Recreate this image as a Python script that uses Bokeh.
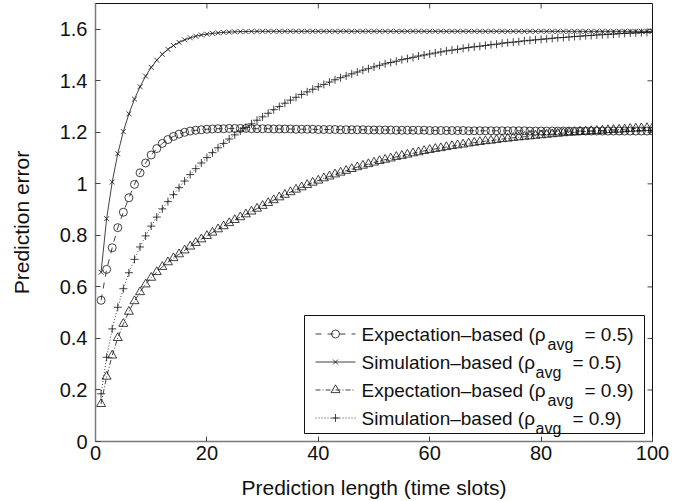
from math import pi

from bokeh.plotting import figure
from bokeh.models import FixedTicker, Range1d
from bokeh.core.properties import value
from bokeh.embed import file_html
from bokeh.resources import INLINE

# Prediction length in time slots
slots = list(range(1, 101))

# Expectation-based prediction error, rho_avg = 0.5
exp_rho05 = [
    0.548, 0.668, 0.752, 0.830, 0.890, 0.946, 0.998, 1.043, 1.081, 1.112,
    1.137, 1.157, 1.172, 1.184, 1.193, 1.200, 1.205, 1.208, 1.210, 1.212,
    1.213, 1.214, 1.214, 1.215, 1.215, 1.215, 1.215, 1.214, 1.214, 1.214,
    1.214, 1.213, 1.213, 1.213, 1.213, 1.212, 1.212, 1.212, 1.212, 1.211,
    1.211, 1.211, 1.211, 1.210, 1.210, 1.210, 1.210, 1.210, 1.209, 1.209,
    1.209, 1.209, 1.209, 1.208, 1.208, 1.208, 1.208, 1.208, 1.208, 1.207,
    1.207, 1.207, 1.207, 1.207, 1.207, 1.207, 1.206, 1.206, 1.206, 1.206,
    1.206, 1.206, 1.206, 1.206, 1.206, 1.206, 1.206, 1.205, 1.205, 1.205,
    1.205, 1.205, 1.205, 1.205, 1.205, 1.205, 1.205, 1.205, 1.205, 1.205,
    1.205, 1.205, 1.205, 1.205, 1.205, 1.205, 1.205, 1.205, 1.205, 1.205,
]

# Simulation-based prediction error, rho_avg = 0.5
sim_rho05 = [
    0.657, 0.865, 1.007, 1.117, 1.203, 1.272, 1.329, 1.377, 1.418, 1.452,
    1.480, 1.503, 1.522, 1.537, 1.549, 1.559, 1.567, 1.573, 1.578, 1.581,
    1.584, 1.586, 1.588, 1.589, 1.590, 1.591, 1.591, 1.592, 1.592, 1.592,
    1.592, 1.592, 1.592, 1.592, 1.592, 1.592, 1.592, 1.592, 1.592, 1.592,
    1.592, 1.592, 1.592, 1.592, 1.592, 1.592, 1.592, 1.592, 1.592, 1.592,
    1.592, 1.592, 1.592, 1.592, 1.592, 1.592, 1.592, 1.592, 1.592, 1.592,
    1.592, 1.592, 1.592, 1.592, 1.592, 1.592, 1.592, 1.592, 1.592, 1.592,
    1.592, 1.592, 1.592, 1.592, 1.592, 1.592, 1.592, 1.592, 1.592, 1.592,
    1.592, 1.592, 1.592, 1.592, 1.592, 1.592, 1.592, 1.592, 1.592, 1.592,
    1.592, 1.592, 1.592, 1.592, 1.592, 1.592, 1.592, 1.592, 1.592, 1.592,
]

# Expectation-based prediction error, rho_avg = 0.9
exp_rho09 = [
    0.146, 0.252, 0.334, 0.402, 0.457, 0.504, 0.545, 0.580, 0.610, 0.636,
    0.658, 0.678, 0.696, 0.712, 0.727, 0.742, 0.757, 0.771, 0.785, 0.798,
    0.811, 0.824, 0.836, 0.848, 0.860, 0.871, 0.882, 0.893, 0.904, 0.915,
    0.926, 0.937, 0.948, 0.958, 0.968, 0.978, 0.987, 0.996, 1.005, 1.013,
    1.022, 1.029, 1.037, 1.044, 1.051, 1.058, 1.065, 1.071, 1.077, 1.083,
    1.089, 1.094, 1.099, 1.105, 1.109, 1.114, 1.119, 1.123, 1.128, 1.132,
    1.136, 1.139, 1.143, 1.147, 1.150, 1.153, 1.157, 1.160, 1.163, 1.166,
    1.168, 1.171, 1.174, 1.176, 1.179, 1.181, 1.183, 1.185, 1.187, 1.189,
    1.191, 1.193, 1.195, 1.197, 1.199, 1.200, 1.202, 1.203, 1.205, 1.206,
    1.207, 1.209, 1.210, 1.211, 1.212, 1.214, 1.215, 1.216, 1.217, 1.218,
]

# Simulation-based prediction error, rho_avg = 0.9
sim_rho09 = [
    0.185, 0.327, 0.437, 0.521, 0.593, 0.655, 0.707, 0.755, 0.798, 0.836,
    0.871, 0.903, 0.931, 0.958, 0.985, 1.011, 1.036, 1.059, 1.081, 1.102,
    1.121, 1.140, 1.157, 1.174, 1.190, 1.205, 1.219, 1.233, 1.247, 1.260,
    1.274, 1.288, 1.300, 1.313, 1.325, 1.336, 1.347, 1.357, 1.367, 1.377,
    1.386, 1.395, 1.404, 1.412, 1.419, 1.427, 1.434, 1.441, 1.447, 1.454,
    1.460, 1.466, 1.471, 1.476, 1.482, 1.486, 1.491, 1.496, 1.500, 1.504,
    1.508, 1.512, 1.516, 1.519, 1.522, 1.526, 1.529, 1.532, 1.534, 1.537,
    1.540, 1.542, 1.546, 1.548, 1.550, 1.552, 1.555, 1.557, 1.559, 1.561,
    1.563, 1.565, 1.567, 1.568, 1.570, 1.572, 1.573, 1.575, 1.576, 1.578,
    1.579, 1.580, 1.581, 1.583, 1.584, 1.585, 1.586, 1.587, 1.588, 1.589,
]

series_methods = ["Expectation\u2013based", "Simulation\u2013based",
                  "Expectation\u2013based", "Simulation\u2013based"]
series_rho = ["0.5", "0.5", "0.9", "0.9"]

x_ticks = [0, 20, 40, 60, 80, 100]
x_tick_labels = ["0", "20", "40", "60", "80", "100"]
y_ticks = [0, 0.2, 0.4, 0.6, 0.8, 1, 1.2, 1.4, 1.6]
y_tick_labels = ["0", "0.2", "0.4", "0.6", "0.8", "1", "1.2", "1.4", "1.6"]

FONT = "Liberation Sans"
INK = "#111111"
TICK_INK = "#444444"
WIDTH, HEIGHT = 692, 501
BORDER_L, BORDER_R, BORDER_T, BORDER_B = 95, 40, 3, 60
FRAME_W = WIDTH - BORDER_L - BORDER_R
FRAME_H = HEIGHT - BORDER_T - BORDER_B
X_MAX, Y_MAX = 100, 1.7

p = figure(
    width=WIDTH, height=HEIGHT,
    x_range=Range1d(0, X_MAX), y_range=Range1d(0, Y_MAX),
    output_backend="svg", toolbar_location=None,
    min_border_left=BORDER_L, min_border_right=BORDER_R,
    min_border_top=BORDER_T, min_border_bottom=BORDER_B,
    x_axis_label="Prediction length (time slots)",
    y_axis_label="Prediction error",
)
p.grid.visible = False
p.background_fill_color = "white"
p.border_fill_color = "white"
p.outline_line_color = INK
p.outline_line_width = 1


def style_axis(ax, ticks, labels):
    ax.ticker = FixedTicker(ticks=ticks)
    ax.major_label_overrides = {t: s for t, s in zip(ticks, labels)}
    ax.major_tick_in = 5
    ax.major_tick_out = 0
    ax.minor_tick_line_color = None
    ax.major_tick_line_color = TICK_INK
    ax.axis_line_color = "#7a7a7a"
    ax.axis_line_width = 1.5
    ax.major_label_text_font = FONT
    ax.major_label_text_font_size = "20px"
    ax.major_label_text_color = INK
    ax.axis_label_text_font = FONT
    ax.axis_label_text_font_size = "21px"
    ax.axis_label_text_font_style = "normal"
    ax.axis_label_text_color = INK


style_axis(p.xaxis[0], x_ticks, x_tick_labels)
style_axis(p.yaxis[0], y_ticks, y_tick_labels)
p.xaxis[0].major_label_standoff = 4
p.xaxis[0].axis_label_standoff = 13
p.yaxis[0].major_label_standoff = 8
p.yaxis[0].axis_label_standoff = 24

# inward tick marks mirrored on the top and right edges of the box
p.ray(x=x_ticks, y=[Y_MAX] * len(x_ticks), length=5, length_units="screen",
      angle=-pi / 2, line_color=TICK_INK, line_width=1)
p.ray(x=[X_MAX] * len(y_ticks), y=y_ticks, length=5, length_units="screen",
      angle=pi, line_color=TICK_INK, line_width=1)

series = [
    (exp_rho05, "dashed", "circle", 8),
    (sim_rho05, "solid", "x", 7),
    (exp_rho09, "5 2 1 2", "triangle", 9),
    (sim_rho09, "1 2", "cross", 8),
]

for ys, dash, marker, size in series:
    p.line(slots, ys, line_color=INK, line_width=0.8, line_dash=dash)
    p.scatter(slots, ys, marker=marker, size=size, fill_color=None,
              line_color=INK, line_width=0.8)


# legend, laid out in pixels from the top-left corner of the frame
def at(px, py):
    return px / FRAME_W * X_MAX, (FRAME_H - py) / FRAME_H * Y_MAX


box_l, box_t = at(209, 312)
box_r, box_b = at(549, 430)
p.quad(left=[box_l], right=[box_r], top=[box_t], bottom=[box_b],
       fill_color="white", line_color=INK, line_width=1)

row_y = [330.5, 358.5, 386.5, 414.5]
sub_x = [452, 440, 452, 440]
tail_x = [489, 477, 489, 477]
for i, (ys, dash, marker, size) in enumerate(series):
    ry = row_y[i]
    x0, y0 = at(220, ry)
    x1, _ = at(260, ry)
    xm, _ = at(240, ry)
    p.line([x0, x1], [y0, y0], line_color=INK, line_width=0.8, line_dash=dash)
    p.scatter([xm], [y0], marker=marker, size=size, fill_color=None,
              line_color=INK, line_width=0.8)
    tx, _ = at(266, ry)
    p.text(x=[tx], y=[y0], text=[series_methods[i] + " (\u03c1"],
           text_font=value(FONT), text_font_size=value("19px"),
           text_color=INK, text_baseline="middle", text_align="left")
    sx, sy = at(sub_x[i], ry + 10)
    p.text(x=[sx], y=[sy], text=["avg"],
           text_font=value(FONT), text_font_size=value("16px"),
           text_color=INK, text_baseline="middle", text_align="left")
    ex, _ = at(tail_x[i], ry)
    p.text(x=[ex], y=[y0], text=["= " + series_rho[i] + ")"],
           text_font=value(FONT), text_font_size=value("19px"),
           text_color=INK, text_baseline="middle", text_align="left")

open("out.html", "w").write(file_html(p, INLINE))
